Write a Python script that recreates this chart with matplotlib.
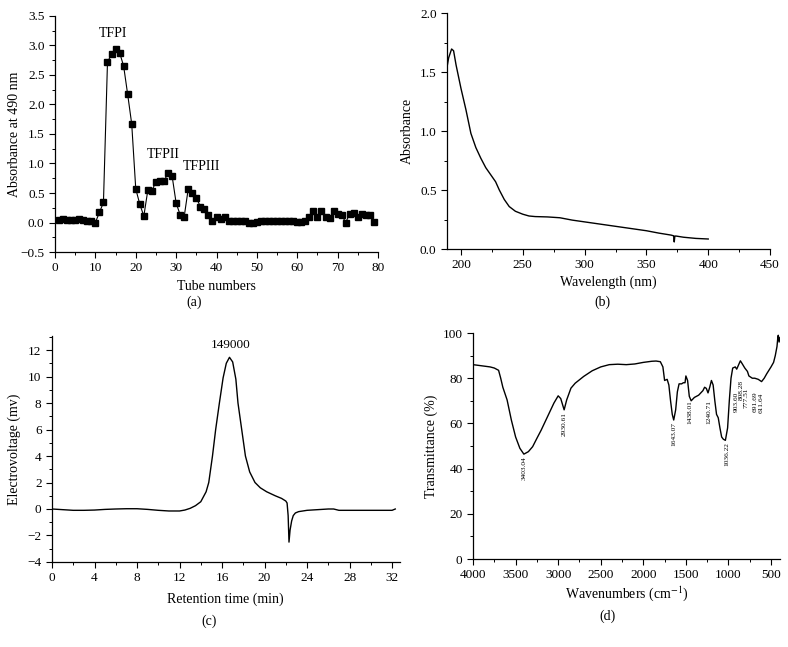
import matplotlib
matplotlib.use("Agg")
import matplotlib.pyplot as plt
from matplotlib.ticker import MultipleLocator

plt.rcParams["font.family"] = ["Liberation Serif", "DejaVu Serif"]
plt.rcParams["mathtext.fontset"] = "stix"

# (a) absorbance at 490 nm per tube
tubes = list(range(1, 80))
absorb = [0.05, 0.06, 0.05, 0.05, 0.04, 0.06, 0.04, 0.03, 0.02, 0.00,
          0.17, 0.34, 2.72, 2.85, 2.94, 2.88, 2.65, 2.17, 1.67, 0.57,
          0.31, 0.11, 0.55, 0.54, 0.69, 0.70, 0.70, 0.84, 0.79, 0.33,
          0.13, 0.10, 0.57, 0.50, 0.42, 0.27, 0.23, 0.12, 0.02, 0.09,
          0.06, 0.09, 0.03, 0.03, 0.03, 0.02, 0.02, 0.00, 0.00, 0.01,
          0.02, 0.03, 0.03, 0.03, 0.02, 0.02, 0.02, 0.02, 0.02, 0.01,
          0.01, 0.02, 0.10, 0.20, 0.10, 0.20, 0.10, 0.08, 0.19, 0.15,
          0.13, 0.00, 0.15, 0.16, 0.10, 0.15, 0.13, 0.12, 0.01]
peak_names = ["TFPI", "TFPII", "TFPIII"]
peak_x = [14.4, 26.8, 36.3]
peak_y = [3.2, 1.16, 0.95]

# (b) UV spectrum
wl = [189, 190, 192.4, 194, 196, 198, 200, 204, 208, 212, 216, 220, 224, 228,
      231, 235, 239, 244, 250, 255, 260, 270, 280, 290, 300, 310, 320, 330,
      340, 350, 360, 370, 372, 372.5, 373, 374, 380, 390, 400]
uv = [1.56, 1.62, 1.695, 1.68, 1.56, 1.46, 1.36, 1.18, 0.98, 0.86, 0.77, 0.69,
      0.63, 0.57, 0.50, 0.42, 0.36, 0.32, 0.295, 0.28, 0.275, 0.272, 0.265,
      0.245, 0.23, 0.215, 0.20, 0.185, 0.17, 0.155, 0.135, 0.118, 0.112, 0.06,
      0.11, 0.11, 0.10, 0.09, 0.085]

# (c) HPGPC chromatogram
rt = [0, 1, 2, 3, 4, 5, 6, 7, 8, 9, 10, 11, 12, 12.5, 13, 13.5, 14.0, 14.5,
      14.75, 15.1, 15.4, 15.75, 16.1, 16.4, 16.7, 17.0, 17.3, 17.5, 17.85,
      18.2, 18.6, 19.1, 19.6, 20.2, 21.0, 21.6, 22.0, 22.12, 22.22, 22.3,
      22.4, 22.55, 22.7, 22.9, 23.2, 23.6, 24, 25, 26, 26.5, 27, 28, 30, 32,
      32.3]
mv = [0.0, -0.05, -0.1, -0.1, -0.08, -0.03, 0.0, 0.02, 0.02, -0.03, -0.1,
      -0.15, -0.15, -0.08, 0.05, 0.25, 0.55, 1.3, 2.0, 4.0, 6.0, 8.0, 9.9,
      11.0, 11.45, 11.1, 9.8, 8.0, 6.0, 4.0, 2.8, 2.0, 1.6, 1.3, 1.0, 0.8,
      0.6, 0.45, -0.5, -2.5, -1.6, -0.9, -0.5, -0.3, -0.2, -0.15, -0.1,
      -0.05, 0.0, 0.0, -0.1, -0.1, -0.1, -0.1, 0.0]
mw_label = "149000"

# (d) FT-IR spectrum
wn = [4000, 3900, 3800, 3750, 3700, 3675, 3650, 3600, 3550, 3500, 3450, 3403,
      3350, 3300, 3250, 3200, 3100, 3050, 3000, 2970, 2930, 2900, 2850, 2800,
      2700, 2600, 2500, 2400, 2300, 2200, 2100, 2000, 1900, 1850, 1800, 1770,
      1750, 1720, 1700, 1680, 1660, 1643, 1620, 1600, 1580, 1550, 1530, 1510,
      1500, 1480, 1460, 1438, 1400, 1350, 1300, 1280, 1260, 1240, 1220, 1200,
      1180, 1160, 1140, 1120, 1100, 1080, 1060, 1036, 1010, 990, 970, 950,
      920, 903, 880, 860, 840, 808, 777, 760, 720, 691, 650, 611, 580, 550,
      500, 470, 450, 430, 420, 415, 405, 395]
trans = [86, 85.5, 85, 84.5, 83.5, 80, 76, 70.4, 61.5, 54, 49, 46.4,
         47.5, 49.7, 53.4, 57, 65, 69, 72.2, 71, 66, 70.4, 75.6, 77.8,
         80.8, 83.3, 85, 86, 86.2, 86, 86.3, 87, 87.5, 87.6, 87.3, 85,
         79, 79.5, 77, 70, 64, 61.5, 66, 74, 77.5, 77.5, 78, 78,
         81, 79, 72, 70, 71.5, 72.5, 74.5, 76, 75.5, 73.5, 76, 79,
         77, 70, 64, 62.5, 58, 54, 53, 52.5, 58, 70, 80, 84.5,
         85, 84, 86, 87.7, 86.5, 84.5, 83, 81, 80, 80, 79.5, 78.5, 80, 82,
         85, 87, 90, 94, 98, 99, 96, 98]
ir_labels = ["3403.04", "2930.61", "1643.07", "1438.01", "1240.71", "1036.22",
             "903.60", "808.28", "777.51", "691.69", "611.64"]
ir_lab_x = [3395, 2931, 1647, 1448, 1236, 1013, 914, 848, 789, 690, 620]
ir_lab_top = [45.3, 65, 60.7, 70.3, 70.3, 51.5, 74, 79.2, 75.7, 74, 73.5]

fig = plt.figure(figsize=(7.88, 6.47), dpi=100)

TICK = 9.5
LAB = 10


def style(ax):
    for s in ["top", "right"]:
        ax.spines[s].set_visible(False)
    for s in ["left", "bottom"]:
        ax.spines[s].set_linewidth(0.9)
    ax.tick_params(which="major", direction="out", length=4, width=0.8, labelsize=TICK)
    ax.tick_params(which="minor", direction="out", length=2.5, width=0.7)


# (a)
ax = fig.add_axes([0.0698, 0.6105, 0.4099, 0.3648])
ax.plot(tubes, absorb, "-s", color="black", lw=0.8, markersize=4.3)
ax.set_xlim(0, 80)
ax.set_ylim(-0.5, 3.5)
ax.xaxis.set_major_locator(MultipleLocator(10))
ax.xaxis.set_minor_locator(MultipleLocator(5))
ax.yaxis.set_major_locator(MultipleLocator(0.5))
ax.yaxis.set_minor_locator(MultipleLocator(0.25))
ax.yaxis.set_major_formatter(lambda v, p: f"{v:.1f}".replace("-", "\u2212"))
for name, x, y in zip(peak_names, peak_x, peak_y):
    ax.text(x, y, name, ha="center", va="center", fontsize=10)
ax.set_xlabel("Tube numbers", fontsize=LAB, labelpad=4)
ax.set_ylabel("Absorbance at 490 nm", fontsize=LAB, labelpad=0)
style(ax)
fig.text(194 / 788, 1 - 302 / 647, "(a)", ha="center", va="center", fontsize=LAB)

# (b)
ax = fig.add_axes([0.5673, 0.6151, 0.4099, 0.3648])
ax.plot(wl, uv, color="black", lw=1.0)
ax.set_xlim(188.7, 450)
ax.set_ylim(0, 2.0)
ax.xaxis.set_major_locator(MultipleLocator(50))
ax.xaxis.set_minor_locator(MultipleLocator(25))
ax.yaxis.set_major_locator(MultipleLocator(0.5))
ax.yaxis.set_minor_locator(MultipleLocator(0.25))
ax.yaxis.set_major_formatter(lambda v, p: f"{v:.1f}")
ax.set_xlabel("Wavelength (nm)", fontsize=LAB, labelpad=3)
ax.set_ylabel("Absorbance", fontsize=LAB, labelpad=4)
style(ax)
fig.text(602 / 788, 1 - 302 / 647, "(b)", ha="center", va="center", fontsize=LAB)

# (c)
ax = fig.add_axes([0.066, 0.1314, 0.4410, 0.3493])
ax.plot(rt, mv, color="black", lw=1.0)
ax.set_xlim(0, 32.7)
ax.set_ylim(-4, 13.06)
ax.xaxis.set_major_locator(MultipleLocator(4))
ax.xaxis.set_minor_locator(MultipleLocator(2))
ax.yaxis.set_major_locator(MultipleLocator(2))
ax.yaxis.set_minor_locator(MultipleLocator(1))
ax.yaxis.set_major_formatter(lambda v, p: f"{v:.0f}".replace("-", "\u2212"))
ax.text(16.8, 11.9, mw_label, ha="center", va="bottom", fontsize=9.5)
ax.set_xlabel("Retention time (min)", fontsize=LAB, labelpad=6)
ax.set_ylabel("Electrovoltage (mv)", fontsize=LAB, labelpad=5)
style(ax)
fig.text(209 / 788, 1 - 621 / 647, "(c)", ha="center", va="center", fontsize=LAB)

# (d)
ax = fig.add_axes([0.6003, 0.136, 0.3895, 0.3493])
ax.plot(wn, trans, color="black", lw=1.0)
ax.set_xlim(4000, 395)
ax.set_ylim(0, 100)
ax.xaxis.set_major_locator(MultipleLocator(500))
ax.xaxis.set_minor_locator(MultipleLocator(250))
ax.yaxis.set_major_locator(MultipleLocator(20))
ax.yaxis.set_minor_locator(MultipleLocator(10))
for lab, x, y in zip(ir_labels, ir_lab_x, ir_lab_top):
    ax.text(x, y, lab, rotation=90, ha="center", va="top", fontsize=5.3)
ax.set_xlabel("Wavenumbers (cm$^{-1}$)", fontsize=LAB, labelpad=2)
ax.set_ylabel("Transmittance (%)", fontsize=LAB, labelpad=3)
style(ax)
fig.text(608 / 788, 1 - 616 / 647, "(d)", ha="center", va="center", fontsize=LAB)

fig.savefig("out.png", dpi=100)
